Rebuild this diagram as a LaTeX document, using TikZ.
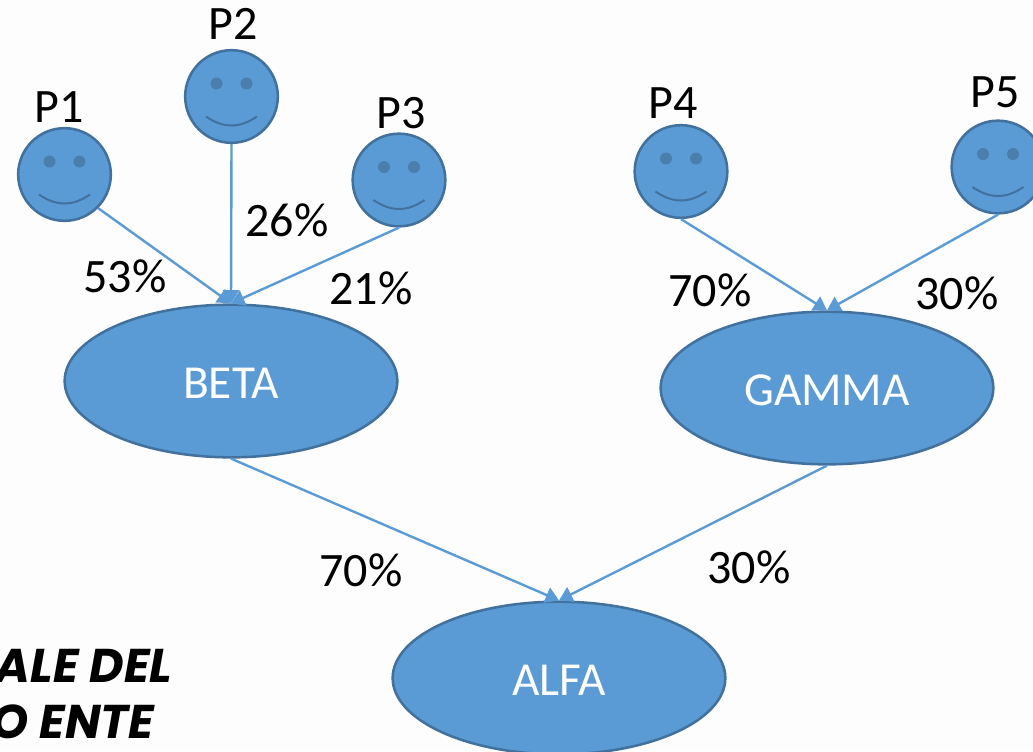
\documentclass[tikz,border=0pt]{standalone}
\usepackage{fontspec}
\setmainfont{Carlito}
\newfontfamily\titlefont{Poppins}
\usepackage{tikz}
\usetikzlibrary{arrows.meta, shapes.geometric}
\definecolor{shapeblue}{HTML}{5B9BD5}
\definecolor{shapeedge}{HTML}{41719C}
\definecolor{eyeblue}{HTML}{4A7EAD}
\definecolor{paper}{HTML}{FDFDFD}

\begin{document}
\begin{tikzpicture}[
		x=0.75pt, y=-0.75pt,
		facenode/.style={circle, draw=shapeedge, fill=shapeblue, line width=1.9pt, minimum size=69.5pt, inner sep=0pt},
		groupnode/.style={ellipse, draw=shapeedge, fill=shapeblue, line width=1.9pt, minimum width=249.5pt, minimum height=114.5pt, inner sep=0pt, text=white, text height=26pt, text depth=0pt, font=\fontsize{35.5}{42}\selectfont},
		textnode/.style={font=\fontsize{36}{44}\selectfont, inner sep=0pt},
		titlenode/.style={anchor=base east, inner sep=0pt, font=\titlefont\bfseries\itshape\fontsize{35.5}{42}\selectfont},
		link/.style={draw=shapeblue, line width=1.8pt, -{Triangle[length=10pt, width=12pt]}}
	]

	\useasboundingbox (0,0) rectangle (1033,751);
	\clip (0,0) rectangle (1033,751);
	\fill[paper] (0,0) rectangle (1033,751);

	\node[groupnode] (beta) at (231,381) {BETA};
	\node[groupnode] (gamma) at (827,388) {GAMMA};
	\node[groupnode] (alfa) at (559,678) {ALFA};

	\foreach \name/\px/\py in {p1/64.5/174.5, p2/231.5/96.5, p3/399/180, p4/681/171.5, p5/998/167} {
		\node[facenode] (\name) at (\px,\py) {};
		\fill[eyeblue] (\px-15,\py-13) circle (4.5pt);
		\fill[eyeblue] (\px+15,\py-13) circle (4.5pt);
		\draw[shapeedge, line width=1.5pt] (\px-25.5,\py+20) .. controls (\px-8,\py+32) and (\px+8,\py+32) .. (\px+25.5,\py+20);
	}

	\node[textnode] (p1label) at (59,107) {P1};
	\node[textnode] (p2label) at (233,24) {P2};
	\node[textnode] (p3label) at (401,113) {P3};
	\node[textnode] (p4label) at (673,103) {P4};
	\node[textnode] (p5label) at (995,92) {P5};

	\draw[link] (p1.south east) -- (beta.north);
	\draw[link] (p2.south) -- (beta.north);
	\draw[link] (p3.south) -- (beta.north);
	\draw[link] (p4.south) -- (gamma.north);
	\draw[link] (p5.south) -- (gamma.north);
	\draw[link] (beta.south) -- (alfa.north);
	\draw[link] (gamma.south) -- (alfa.north);

	\node[textnode] (share1) at (125,276) {53\%};
	\node[textnode] (share2) at (287,220) {26\%};
	\node[textnode] (share3) at (371,288) {21\%};
	\node[textnode] (share4) at (710,290) {70\%};
	\node[textnode] (share5) at (957,293) {30\%};
	\node[textnode] (sharebeta) at (361,570) {70\%};
	\node[textnode] (sharegamma) at (749,567) {30\%};

	\node[titlenode] (title1) at (172.5,682) {ALE DEL};
	\node[titlenode] (title2) at (154.5,738) {O ENTE};

\end{tikzpicture}
\end{document}
